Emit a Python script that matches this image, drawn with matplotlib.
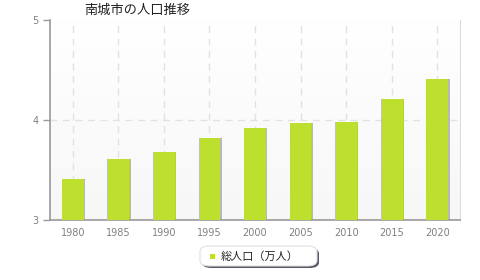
import matplotlib
matplotlib.use("Agg")
import matplotlib.pyplot as plt
import numpy as np
from matplotlib.patches import FancyBboxPatch

plt.rcParams['font.family'] = ['Noto Sans CJK JP', 'DejaVu Sans']

years = ['1980', '1985', '1990', '1995', '2000', '2005', '2010', '2015', '2020']
population = [3.41, 3.61, 3.68, 3.82, 3.92, 3.97, 3.98, 4.21, 4.41]
title = '南城市の人口推移'
legend_label = '総人口（万人）'
bar_color = '#bde02e'

fig = plt.figure(figsize=(4.8, 2.8), dpi=100)
ax = fig.add_axes([50/480, 60/280, 410/480, 200/280])

x = np.arange(len(years))
# background gradient: white at top, light grey at bottom
grad = np.linspace(0, 1, 256).reshape(-1, 1)
ax.imshow(grad, extent=[-0.5, 8.5, 3, 5], aspect='auto',
          cmap=matplotlib.colors.LinearSegmentedColormap.from_list('g', ['#f7f7f7', '#ffffff']),
          zorder=0, origin='lower')

for xi in x:
    ax.axvline(xi, color='#e2e2e2', lw=1, ls=(0, (5, 4)), zorder=1)
ax.axhline(4, color='#e2e2e2', lw=1, ls=(0, (5, 4)), zorder=1)

# shadow
ax.bar(x + 0.03, np.array(population) - 3, bottom=3, width=0.48, color='#b8b8b8', zorder=2)
ax.bar(x, np.array(population) - 3, bottom=3, width=0.48, color=bar_color, zorder=3)

ax.set_xlim(-0.5, 8.5)
ax.set_ylim(3, 5)
ax.set_xticks(x)
ax.set_xticklabels(years, family='DejaVu Sans')
ax.set_yticks([3, 4, 5])
ax.set_yticklabels(['3', '4', '5'], family='DejaVu Sans')
ax.tick_params(axis='both', colors='#999999', labelsize=7, length=5, width=1, labelcolor='#808080')
ax.tick_params(axis='x', length=0, pad=6)
for s in ['left', 'bottom']:
    ax.spines[s].set_color('#999999')
    ax.spines[s].set_linewidth(1.2)
ax.spines['top'].set_visible(False)
ax.spines['right'].set_color('#dddddd')

fig.text(84/480, 1 - 10/280, title, fontsize=9.5, va='center', ha='left', color='#222222')

# legend
lx, ly, lw_, lh = 200/480, 1 - 266/280, 117/480, 20/280
fig.patches.append(FancyBboxPatch((lx + 2/480, ly - 2/280), lw_, lh, boxstyle='round,pad=0,rounding_size=0.02',
                                  transform=fig.transFigure, fc='#555566', ec='none', zorder=1))
fig.patches.append(FancyBboxPatch((lx, ly), lw_, lh, boxstyle='round,pad=0,rounding_size=0.02',
                                  transform=fig.transFigure, fc='white', ec='#e0e0e0', lw=0.8, zorder=2))
fig.patches.append(matplotlib.patches.Rectangle((210/480, 1 - 259/280), 5/480, 5/280, transform=fig.transFigure,
                                                fc=bar_color, ec='none', zorder=3))
fig.text(221/480, 1 - 256.5/280, legend_label, fontsize=8, va='center', ha='left', color='#222222', zorder=3)

fig.savefig('out.png', dpi=100)
